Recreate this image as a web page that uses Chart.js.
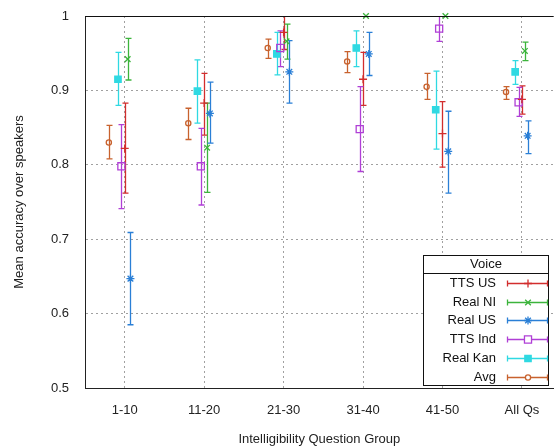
<!DOCTYPE html>
<html>
<head>
<meta charset="utf-8">
<script src="https://cdn.jsdelivr.net/npm/chart.js@4/dist/chart.umd.min.js"></script>
<style>
  body { margin: 0; background: #fff; }
  #wrap { width: 560px; height: 446px; }
</style>
</head>
<body>
<div id="wrap"><canvas id="chart" width="560" height="446"></canvas></div>
<script>
// question groups on the x axis
const groups = ["1-10", "11-20", "21-30", "31-40", "41-50", "All Qs"];
const yTickLabels = ["0.5", "0.6", "0.7", "0.8", "0.9", "1"];

// mean accuracy and error bar ends
const ttsUsMean = [0.822, 0.883, 0.978, 0.915, 0.842, 0.888];
const ttsUsLow  = [0.762, 0.840, 0.955, 0.880, 0.797, 0.868];
const ttsUsHigh = [0.883, 0.923, 1.003, 0.951, 0.885, 0.906];

const realNiMean = [0.942, 0.823, 0.966, 1.000, 1.000, 0.953];
const realNiLow  = [0.914, 0.763, 0.942, 1.000, 1.000, 0.940];
const realNiHigh = [0.970, 0.883, 0.989, 1.000, 1.000, 0.965];

const realUsMean = [0.647, 0.869, 0.925, 0.949, 0.818, 0.839];
const realUsLow  = [0.585, 0.829, 0.883, 0.920, 0.762, 0.815];
const realUsHigh = [0.709, 0.911, 0.967, 0.978, 0.872, 0.859];

const ttsIndMean = [0.798, 0.798, 0.957, 0.848, 0.983, 0.884];
const ttsIndLow  = [0.741, 0.746, 0.932, 0.791, 0.966, 0.865];
const ttsIndHigh = [0.854, 0.849, 0.980, 0.905, 1.000, 0.904];

const realKanMean = [0.915, 0.899, 0.949, 0.957, 0.874, 0.925];
const realKanLow  = [0.880, 0.856, 0.921, 0.932, 0.821, 0.908];
const realKanHigh = [0.951, 0.941, 0.978, 0.980, 0.926, 0.940];

const avgMean = [0.830, 0.856, 0.957, 0.939, 0.905, 0.898];
const avgLow  = [0.808, 0.834, 0.943, 0.924, 0.888, 0.888];
const avgHigh = [0.853, 0.876, 0.969, 0.952, 0.923, 0.905];

// style + horizontal shift of each series inside a group
const series = [
  { name: "TTS US",   mean: ttsUsMean,   low: ttsUsLow,   high: ttsUsHigh,   color: "#d22d2d", style: "cross",    r: 4,   fill: false, shift: 0 },
  { name: "Real NI",  mean: realNiMean,  low: realNiLow,  high: realNiHigh,  color: "#3cb43c", style: "crossRot", r: 4,   fill: false, shift: 0.037 },
  { name: "Real US",  mean: realUsMean,  low: realUsLow,  high: realUsHigh,  color: "#2a7fd6", style: "star",     r: 4,   fill: false, shift: 0.072 },
  { name: "TTS Ind",  mean: ttsIndMean,  low: ttsIndLow,  high: ttsIndHigh,  color: "#b03fd6", style: "rect",     r: 5,   fill: false, shift: -0.042 },
  { name: "Real Kan", mean: realKanMean, low: realKanLow, high: realKanHigh, color: "#2fd9e2", style: "rect",     r: 4.5, fill: true,  shift: -0.085 },
  { name: "Avg",      mean: avgMean,     low: avgLow,     high: avgHigh,     color: "#c8622e", style: "circle",   r: 2.6, fill: false, shift: -0.2 },
];

const FONT = "'Liberation Sans', Arial, sans-serif";

// vertical error bars with caps, clipped to the plot like gnuplot does
const errorBars = {
  id: "errorBars",
  beforeDatasetsDraw(chart) {
    const { ctx, chartArea: a, scales: { y } } = chart;
    ctx.save();
    ctx.beginPath();
    ctx.rect(a.left, a.top, a.right - a.left, a.bottom - a.top);
    ctx.clip();
    ctx.lineWidth = 1.3;
    series.forEach((s, si) => {
      const meta = chart.getDatasetMeta(si);
      ctx.strokeStyle = s.color;
      meta.data.forEach((pt, i) => {
        const x = Math.round(pt.x) + 0.5;
        const yl = y.getPixelForValue(s.low[i]);
        const yh = y.getPixelForValue(s.high[i]);
        ctx.beginPath();
        ctx.moveTo(x, yl); ctx.lineTo(x, yh);
        ctx.moveTo(x - 3, yl); ctx.lineTo(x + 3, yl);
        ctx.moveTo(x - 3, yh); ctx.lineTo(x + 3, yh);
        ctx.stroke();
      });
    });
    ctx.restore();
  }
};

// top border + boxed legend in the lower right corner
const frameAndLegend = {
  id: "frameAndLegend",
  afterDraw(chart) {
    const { ctx, chartArea: a } = chart;
    ctx.save();
    ctx.strokeStyle = "#111";
    ctx.lineWidth = 1;
    ctx.beginPath();
    ctx.moveTo(a.left, Math.round(a.top) + 0.5);
    ctx.lineTo(a.right, Math.round(a.top) + 0.5);
    ctx.stroke();

    const bx = 423.5, by = 255.5, bw = 125, bh = 130;
    ctx.fillStyle = "#fff";
    ctx.fillRect(bx, by, bw, bh);
    ctx.strokeStyle = "#111";
    ctx.strokeRect(bx, by, bw, bh);
    ctx.beginPath();
    ctx.moveTo(bx, 273.5);
    ctx.lineTo(bx + bw, 273.5);
    ctx.stroke();

    ctx.fillStyle = "#111";
    ctx.font = "13px " + FONT;
    ctx.textBaseline = "middle";
    ctx.textAlign = "center";
    ctx.fillText("Voice", bx + bw / 2, 264);

    ctx.textAlign = "right";
    series.forEach((s, i) => {
      const ry = Math.round(283 + i * 18.7) + 0.5;
      ctx.fillStyle = "#111";
      ctx.fillText(s.name, 496, ry);
      ctx.strokeStyle = s.color;
      ctx.lineWidth = 1.3;
      ctx.beginPath();
      ctx.moveTo(507, ry); ctx.lineTo(548, ry);
      ctx.moveTo(507.5, ry - 3); ctx.lineTo(507.5, ry + 3);
      ctx.moveTo(547.5, ry - 3); ctx.lineTo(547.5, ry + 3);
      ctx.stroke();
      ctx.fillStyle = s.fill ? s.color : "#fff";
      ctx.strokeStyle = s.color;
      Chart.helpers.drawPoint(ctx, { pointStyle: s.style, radius: s.r, borderWidth: 1.3, rotation: 0 }, 528, ry);
    });
    ctx.restore();
  }
};

const datasets = series.map(s => ({
  label: s.name,
  data: groups.map((g, i) => ({ x: i + 1 + s.shift, y: s.mean[i] })),
  borderColor: s.color,
  backgroundColor: s.fill ? s.color : "rgba(0,0,0,0)",
  pointStyle: s.style,
  pointRadius: s.r,
  pointBorderWidth: 1.3,
  showLine: false,
  clip: false,
}));

new Chart(document.getElementById("chart"), {
  type: "scatter",
  data: { datasets },
  plugins: [errorBars, frameAndLegend],
  options: {
    responsive: false,
    animation: false,
    layout: { padding: { top: 16, left: 0, right: 0, bottom: 0 } },
    plugins: { legend: { display: false }, tooltip: { enabled: false } },
    scales: {
      x: {
        type: "linear",
        min: 0.5,
        max: 6.4,
        afterBuildTicks: scale => { scale.ticks = groups.map((g, i) => ({ value: i + 1 })); },
        afterFit: scale => { scale.height = 58; scale.paddingLeft = 0; scale.paddingRight = 0; },
        ticks: {
          callback: v => groups[Math.round(v) - 1] || "",
          color: "#222",
          padding: 15,
          font: { family: FONT, size: 13 },
          maxRotation: 0,
          autoSkip: false,
        },
        grid: { color: "#a0a0a0", drawTicks: false, lineWidth: 1 },
        border: { color: "#222", dash: [2, 3] },
        title: {
          display: true,
          text: "Intelligibility Question Group",
          color: "#222",
          font: { family: FONT, size: 13, lineHeight: 1 },
          padding: { top: 0, bottom: 0 },
        },
      },
      y: {
        min: 0.5,
        max: 1,
        afterBuildTicks: scale => { scale.ticks = yTickLabels.map(t => ({ value: parseFloat(t) })); },
        afterFit: scale => { scale.width = 85; scale.paddingTop = 0; scale.paddingBottom = 0; },
        ticks: {
          callback: (v, i) => yTickLabels[i],
          color: "#222",
          padding: 16,
          font: { family: FONT, size: 13 },
        },
        grid: {
          color: c => (c.tick && (c.tick.value === 0.5 || c.tick.value === 1)) ? "rgba(0,0,0,0)" : "#a0a0a0",
          drawTicks: false,
          lineWidth: 1,
        },
        border: { color: "#222", dash: [2, 3] },
        title: {
          display: true,
          text: "Mean accuracy over speakers",
          color: "#222",
          font: { family: FONT, size: 13, lineHeight: 1.2 },
          padding: { top: 12, bottom: 0 },
        },
      },
    },
  },
});
</script>
</body>
</html>
